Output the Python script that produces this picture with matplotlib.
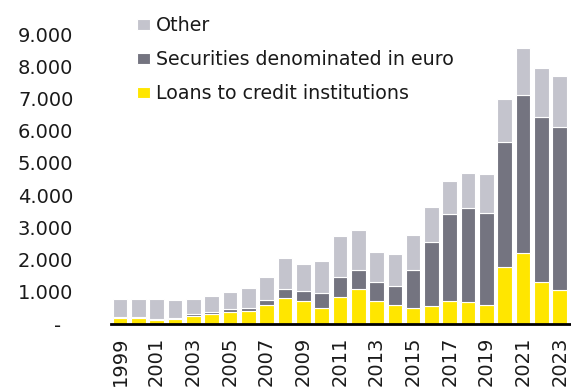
import matplotlib.pyplot as plt
import numpy as np

years = list(range(1999, 2024))

# EUR bn
loans = [200, 200, 140, 170, 250, 300, 370, 410, 600, 820, 710, 500, 830,
         1080, 710, 590, 510, 550, 720, 690, 580, 1760, 2190, 1290, 1070]
securities = [30, 30, 30, 30, 50, 60, 90, 80, 140, 280, 320, 460, 620,
              600, 590, 590, 1160, 2000, 2680, 2920, 2870, 3900, 4910, 5120, 5060]
totals = [770, 790, 770, 750, 790, 860, 1000, 1110, 1470, 2040, 1870, 1970, 2720,
          2930, 2240, 2170, 2760, 3640, 4450, 4690, 4660, 6980, 8570, 7960, 7710]
other = [t - l - s for t, l, s in zip(totals, loans, securities)]

y_ticks = [0, 1000, 2000, 3000, 4000, 5000, 6000, 7000, 8000, 9000]
y_labels = ['-  ', '1.000', '2.000', '3.000', '4.000', '5.000', '6.000', '7.000', '8.000', '9.000']

yellow = '#FFE600'
dark = '#747480'
light = '#C4C4CD'

plt.rcParams['font.family'] = 'DejaVu Sans'
plt.rcParams['font.size'] = 14

fig = plt.figure(figsize=(5.71, 3.89), dpi=100)
ax = fig.add_axes([0.194, 0.167, 0.804, 0.7455])

x = np.arange(len(years))
w = 0.8
b1 = ax.bar(x, loans, w, color=yellow, edgecolor='white', linewidth=0.8)
b2 = ax.bar(x, securities, w, bottom=loans, color=dark, edgecolor='white', linewidth=0.8)
base = [l + s for l, s in zip(loans, securities)]
b3 = ax.bar(x, other, w, bottom=base, color=light, edgecolor='white', linewidth=0.8)

ax.set_xlim(-0.5, 24.55)
ax.set_ylim(0, 9000)
ax.set_yticks(y_ticks)
ax.set_yticklabels(y_labels)
ax.set_xticks(x[::2])
ax.set_xticklabels([str(y) for y in years[::2]], rotation=90, va='top')
ax.tick_params(axis='y', length=0, pad=27, colors='#1a1a1a')
ax.tick_params(axis='x', length=0, pad=9, colors='#1a1a1a')

for s in ['top', 'right', 'left']:
    ax.spines[s].set_visible(False)
ax.spines['bottom'].set_linewidth(2)
ax.spines['bottom'].set_color('black')

leg = fig.legend([b3, b2, b1],
                 ['Other', 'Securities denominated in euro', 'Loans to credit institutions'],
                 loc='upper left', bbox_to_anchor=(0.226, 0.978), frameon=False,
                 fontsize=13.7, handlelength=0.72, handleheight=0.5, handletextpad=0.3,
                 labelspacing=0.78, borderaxespad=0)
for t in leg.get_texts():
    t.set_color('#1a1a1a')

fig.savefig('out.png', dpi=100)
